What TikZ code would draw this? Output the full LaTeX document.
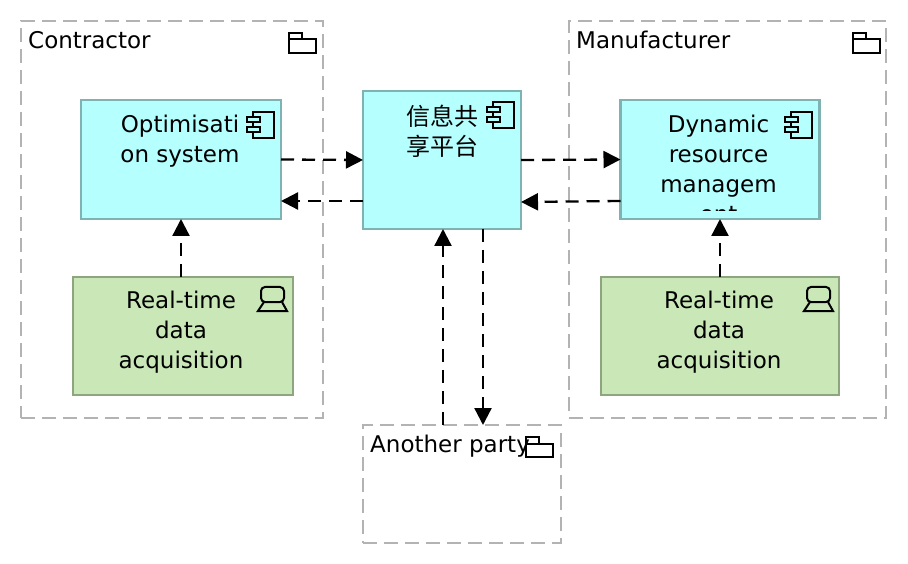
\documentclass[tikz,border=0pt]{standalone}
\usepackage{fontspec}
\setmainfont{DejaVu Sans}
\newfontfamily\cjk{Noto Sans CJK SC}
\usetikzlibrary{arrows.meta}
\definecolor{boxcyan}{HTML}{B5FFFF}
\definecolor{edgecyan}{HTML}{7FB2B2}
\definecolor{boxgreen}{HTML}{C9E7B7}
\definecolor{edgegreen}{HTML}{8DA680}
\definecolor{groupgray}{HTML}{B3B3B3}
\tikzset{
  group/.style={draw=groupgray,line width=2.3pt,dash pattern=on 14pt off 7pt,inner sep=0pt,outer sep=0pt},
  appbox/.style={draw=edgecyan,fill=boxcyan,line width=2.3pt,inner sep=0pt,outer sep=0pt},
  techbox/.style={draw=edgegreen,fill=boxgreen,line width=2.3pt,inner sep=0pt,outer sep=0pt},
  boxtext/.style={anchor=north,align=center,inner sep=0pt,font=\fontsize{23}{30}\selectfont,execute at begin node=\strut},
  grouptext/.style={anchor=north west,inner sep=0pt,font=\fontsize{23}{30}\selectfont,execute at begin node=\strut},
  flow/.style={draw=black,line width=2.3pt,dash pattern=on 13pt off 8pt,-{Triangle[length=17pt,width=17pt]}},
  foldericon/.pic={
    \draw[line width=2pt] (0,6.5) rectangle (27,20);
    \draw[line width=2pt] (0,6.5) -- (0,0) -- (13,0) -- (13,6.5);
  },
  compicon/.pic={
    \draw[line width=2pt] (6,5) -- (6,0) -- (27,0) -- (27,26) -- (6,26) -- (6,20);
    \draw[line width=2pt] (6,10) -- (6,15);
    \draw[line width=2pt] (0,5) rectangle (13,10);
    \draw[line width=2pt] (0,15) rectangle (13,20);
  },
  laptopicon/.pic={
    \draw[line width=2pt,rounded corners=4pt] (3,15) -- (3,0) -- (26,0) -- (26,15) -- cycle;
    \draw[line width=2pt] (6,15) -- (0,24) -- (29,24) -- (24,15);
  }
}
\begin{document}
\begin{tikzpicture}[x=1pt,y=-1pt]
  \useasboundingbox (0,0) rectangle (908,564);
  % groups
  \node[group,minimum width=302,minimum height=397] (contractor) at (172,219.5) {};
  \node[group,minimum width=317,minimum height=397] (manufacturer) at (727.5,219.5) {};
  \node[group,minimum width=198,minimum height=118] (party) at (462,484) {};
  \node[grouptext] (contractorname) at (28,27) {Contractor};
  \node[grouptext] (manufacturername) at (576,27) {Manufacturer};
  \node[grouptext] (partyname) at (370,431) {Another party};
  % boxes
  \node[appbox,minimum width=200,minimum height=119] (optim) at (181,159.5) {};
  \node[appbox,minimum width=158,minimum height=138] (share) at (442,160) {};
  \node[appbox,minimum width=199,minimum height=119] (dynres) at (720,159.5) {};
  \node[techbox,minimum width=220,minimum height=118] (rtleft) at (183,336) {};
  \node[techbox,minimum width=238,minimum height=118] (rtright) at (720,336) {};
  \node[boxtext] (optimname) at (180,115) {Optimisati\\on system};
  \node[boxtext,font=\fontsize{24}{30}\selectfont] (sharename) at (442,105) {\cjk 信息共\\\cjk 享平台};
  \begin{scope}
    \clip (620,100) rectangle (819,211);
    \node[boxtext] (dynresname) at (718.5,115) {Dynamic\\resource\\managem\\ent};
  \end{scope}
  \node[boxtext] (rtleftname) at (181,291) {Real-time\\data\\acquisition};
  \node[boxtext] (rtrightname) at (719,291) {Real-time\\data\\acquisition};
  % icons
  \foreach \x/\y in {289/33, 853/33, 526/437}
    \pic at (\x,\y) {foldericon};
  \foreach \x/\y in {247/112, 487/102, 785/112}
    \pic at (\x,\y) {compicon};
  \foreach \x in {258, 804}
    \pic at (\x,287) {laptopicon};
  % flows
  \draw[flow] (optim.east) -- (share.west);
  \draw[flow] ([yshift=-41pt]share.west) -- ([yshift=-41.5pt]optim.east);
  \draw[flow] (share.east) -- (dynres.west);
  \draw[flow] ([yshift=-41.5pt]dynres.west) -- ([yshift=-42pt]share.east);
  \draw[flow] (rtleft.north -| optim) -- (optim.south);
  \draw[flow] (rtright.north -| dynres) -- (dynres.south);
  \draw[flow] (party.north -| 443,0) -- (share.south -| 443,0);
  \draw[flow] (share.south -| 483,0) -- (party.north -| 483,0);
\end{tikzpicture}
\end{document}
